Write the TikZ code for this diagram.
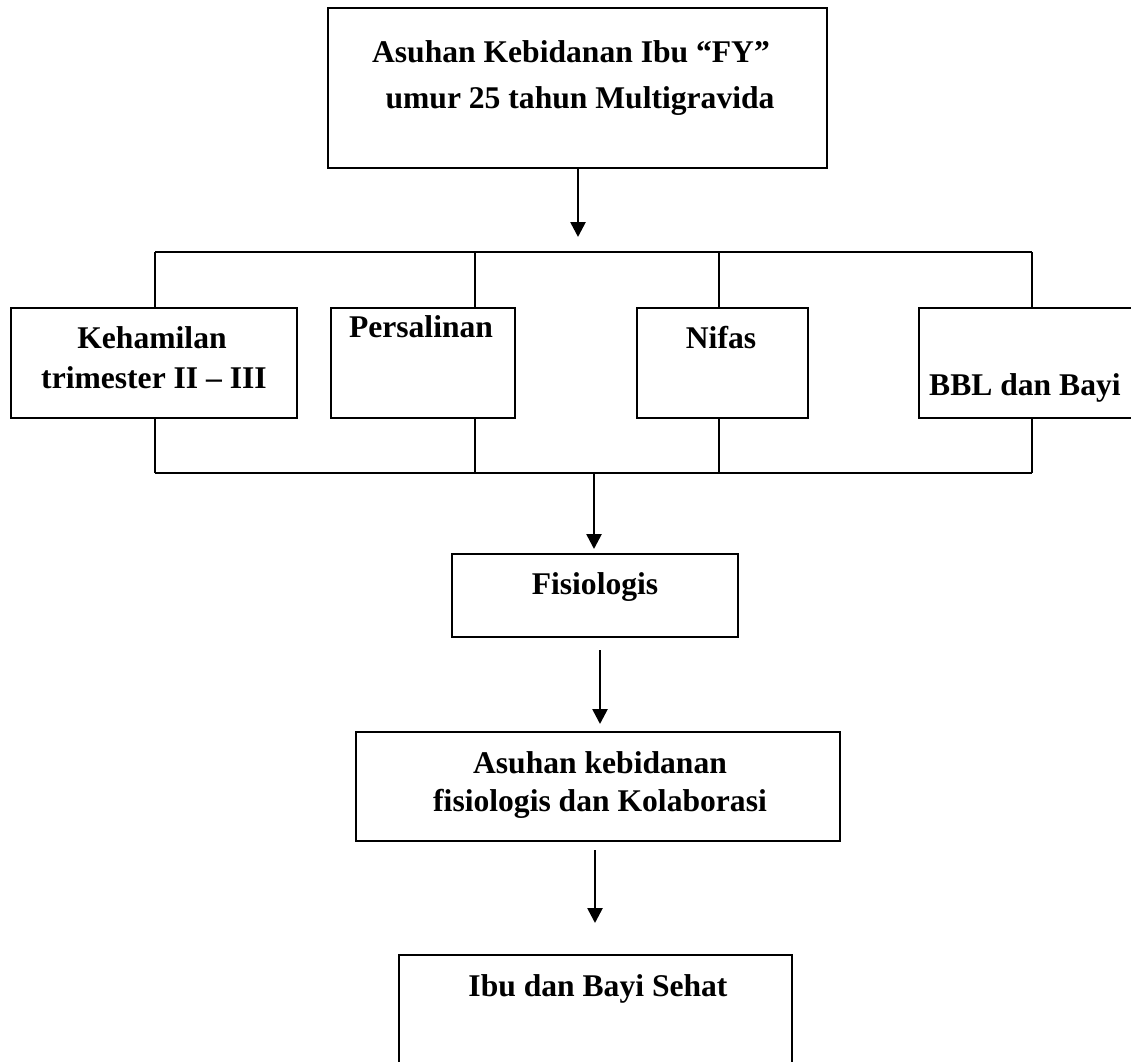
\documentclass[tikz,border=0pt]{standalone}
\usepackage{fontspec}
\setmainfont{Liberation Serif}
\usetikzlibrary{arrows.meta}
\tikzset{
  boxnode/.style={draw, line width=2.6pt, rectangle, inner sep=0pt, outer sep=0pt, anchor=north west},
  txt/.style={anchor=base, inner sep=0pt, font=\fontsize{31.6}{38}\selectfont\bfseries},
  conn/.style={line width=2.6pt},
  arr/.style={line width=2.6pt, -{Triangle[length=15pt,width=15pt]}}
}
\begin{document}
\begin{tikzpicture}[x=1pt,y=-1pt]
\useasboundingbox (0,0) rectangle (1131,1061);
\clip (0,0) rectangle (1131,1061);
% boxes
\node[boxnode, minimum width=499pt, minimum height=160pt] (top) at (328,8) {};
\node[boxnode, minimum width=286pt, minimum height=110pt] (keh) at (11,308) {};
\node[boxnode, minimum width=184pt, minimum height=110pt] (per) at (331,308) {};
\node[boxnode, minimum width=171pt, minimum height=110pt] (nif) at (637,308) {};
\node[boxnode, minimum width=240pt, minimum height=110pt] (bbl) at (919,308) {};
\node[boxnode, minimum width=286pt, minimum height=83pt] (fis) at (452,554) {};
\node[boxnode, minimum width=484pt, minimum height=109pt] (asu) at (356,732) {};
\node[boxnode, minimum width=393pt, minimum height=140pt] (ibu) at (399,955) {};
% texts
\node[txt] (t1) at (571,62) {Asuhan Kebidanan Ibu “FY”};
\node[txt] (t2) at (580,108) {umur 25 tahun Multigravida};
\node[txt] (t3) at (152,348) {Kehamilan};
\node[txt] (t4) at (154,388) {trimester II – III};
\node[txt] (t5) at (421,337) {Persalinan};
\node[txt] (t6) at (721,348) {Nifas};
\node[txt, anchor=base west] (t7) at (929,395) {BBL dan Bayi};
\node[txt] (t8) at (595,594) {Fisiologis};
\node[txt] (t9) at (600,773) {Asuhan kebidanan};
\node[txt] (t10) at (600,811) {fisiologis dan Kolaborasi};
\node[txt] (t11) at (598,996) {Ibu dan Bayi Sehat};
% junction coordinates
\coordinate (u1) at (155,252);
\coordinate (u2) at (475,252);
\coordinate (u3) at (719,252);
\coordinate (u4) at (1032,252);
\coordinate (d1) at (155,473);
\coordinate (d2) at (475,473);
\coordinate (d3) at (719,473);
\coordinate (d4) at (1032,473);
\coordinate (a0e) at (578,237);
\coordinate (a1s) at (594,473);
\coordinate (a1e) at (594,549);
\coordinate (a2s) at (600,650);
\coordinate (a2e) at (600,724);
\coordinate (a3s) at (595,850);
\coordinate (a3e) at (595,923);
% brackets
\draw[conn] (u1) -- (u4);
\draw[conn] (u1) -- (u1 |- keh.north);
\draw[conn] (u2) -- (u2 |- per.north);
\draw[conn] (u3) -- (u3 |- nif.north);
\draw[conn] (u4) -- (u4 |- bbl.north);
\draw[conn] (d1) -- (d4);
\draw[conn] (d1) -- (d1 |- keh.south);
\draw[conn] (d2) -- (d2 |- per.south);
\draw[conn] (d3) -- (d3 |- nif.south);
\draw[conn] (d4) -- (d4 |- bbl.south);
% arrows
\draw[arr] (a0e |- top.south) -- (a0e);
\draw[arr] (a1s) -- (a1e);
\draw[arr] (a2s) -- (a2e);
\draw[arr] (a3s) -- (a3e);
\end{tikzpicture}
\end{document}
